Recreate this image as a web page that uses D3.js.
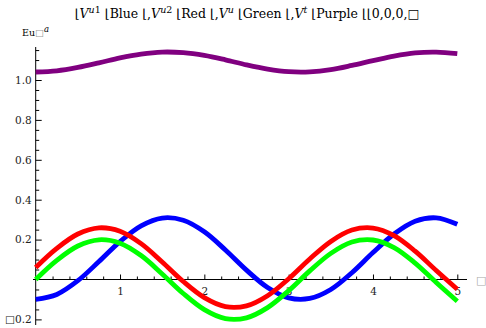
<!DOCTYPE html>
<html><head><meta charset="utf-8">
<script src="https://cdn.jsdelivr.net/npm/d3@7"></script>
<style>
body{margin:0;background:#fff;}
</style></head>
<body><svg id="c" width="486" height="328"></svg>
<script>
const xs = [0,0.25,0.5,0.75,1,1.25,1.5,1.75,2,2.25,2.5,2.75,3,3.25,3.5,3.75,4,4.25,4.5,4.75,5];
const blue = [-0.100,-0.075,-0.006,0.090,0.190,0.269,0.308,0.297,0.239,0.148,0.047,-0.040,-0.092,-0.095,-0.050,0.034,0.135,0.228,0.292,0.309,0.277];
const red = [0.060,0.156,0.228,0.259,0.242,0.180,0.088,-0.010,-0.091,-0.136,-0.132,-0.081,0.004,0.103,0.191,0.248,0.258,0.220,0.142,0.045,-0.049];
const green = [0.000,0.096,0.168,0.199,0.182,0.120,0.028,-0.070,-0.151,-0.196,-0.192,-0.141,-0.056,0.043,0.131,0.188,0.198,0.160,0.082,-0.015,-0.109];
const purple = [1.040,1.046,1.063,1.086,1.111,1.130,1.140,1.137,1.123,1.101,1.076,1.055,1.042,1.041,1.052,1.073,1.097,1.120,1.136,1.140,1.132];
const xTicks = [1,2,3,4,5];
const yTicks = [-0.2,0.2,0.4,0.6,0.8,1.0];
const seriesList = [
  {name:"Purple", values:purple, color:"#800080"},
  {name:"Blue", values:blue, color:"#0000ff"},
  {name:"Red", values:red, color:"#ff0000"},
  {name:"Green", values:green, color:"#00ff00"}
];
const FONT = "DejaVu Serif";

const svg = d3.select("#c");
const x = d3.scaleLinear().domain([0,5]).range([35.7,457.3]);
const y = d3.scaleLinear().domain([0,1]).range([279.5,80]);

const yMinor = d3.range(-0.2,1.151,0.05).map(v=>+v.toFixed(2)).filter(v=>Math.abs(v*5-Math.round(v*5))>1e-6);
const xMinor = d3.range(0.2,5.001,0.2).map(v=>+v.toFixed(2)).filter(v=>Math.abs(v-Math.round(v))>1e-6);

const fmtY = v => v<0 ? "\u25A1"+d3.format(".1f")(-v) : d3.format(".1f")(v);

const gx = svg.append("g").attr("transform",`translate(0,${y(0)})`);
gx.call(d3.axisBottom(x).tickValues(xTicks).tickFormat(d3.format("d")).tickSizeInner(-5).tickSizeOuter(0).tickPadding(8));
gx.select(".domain").remove();
gx.append("line").attr("x1",33).attr("x2",467).attr("stroke","#000").attr("stroke-width",1);
const gx2 = svg.append("g").attr("transform",`translate(0,${y(0)})`);
gx2.call(d3.axisBottom(x).tickValues(xMinor).tickFormat("").tickSizeInner(-3).tickSizeOuter(0));
gx2.select(".domain").remove();

const gy = svg.append("g").attr("transform",`translate(${x(0)},0)`);
gy.call(d3.axisLeft(y).tickValues(yTicks).tickFormat(fmtY).tickSizeInner(-6).tickSizeOuter(0).tickPadding(4));
gy.select(".domain").remove();
gy.append("line").attr("y1",47).attr("y2",325).attr("stroke","#000").attr("stroke-width",1);
const gy2 = svg.append("g").attr("transform",`translate(${x(0)},0)`);
gy2.call(d3.axisLeft(y).tickValues(yMinor).tickFormat("").tickSizeInner(-3.5).tickSizeOuter(0));
gy2.select(".domain").remove();

svg.selectAll("g").attr("font-family",FONT);
svg.selectAll(".tick text").attr("font-size",10.5).attr("fill","#222").attr("font-family",FONT);
svg.selectAll(".tick line").attr("stroke","#000");

const line = d3.line().x((d,i)=>x(xs[i])).y(d=>y(d)).curve(d3.curveCatmullRom);
svg.append("g").selectAll("path").data(seriesList).join("path")
  .attr("d",d=>line(d.values)).attr("fill","none")
  .attr("stroke",d=>d.color).attr("stroke-width",4.8);

const yl = svg.append("text").attr("x",22).attr("y",36).attr("font-size",9.5).attr("font-family",FONT);
yl.append("tspan").text("Eu");
yl.append("tspan").attr("fill","#999").text("\u25A1");
yl.append("tspan").attr("font-style","italic").attr("dy",-4).attr("font-size",8.5).text("a");
svg.append("text").attr("x",476).attr("y",284).attr("font-size",11).attr("fill","#aaa").attr("font-family",FONT).text("\u25A1");

const t = svg.append("text").attr("x",247).attr("y",18).attr("text-anchor","middle").attr("font-size",12.5).attr("font-family",FONT);
function V(sup, sub2){
  t.append("tspan").attr("font-style","italic").text("V");
  t.append("tspan").attr("font-style","italic").attr("font-size",9.5).attr("dy",-5).text(sup);
  if(sub2) t.append("tspan").attr("font-size",9.5).text(sub2);
  t.append("tspan").attr("dy",5).text(" ");
}
t.append("tspan").text("\u230A"); V("u","1");
t.append("tspan").text("\u230ABlue \u230A,"); V("u","2");
t.append("tspan").text("\u230ARed \u230A,"); V("u",null);
t.append("tspan").text("\u230AGreen  \u230A,"); V("t",null);
t.append("tspan").text("\u230APurple \u230A\u230A0,0,0,\u25A1");
</script></body></html>
